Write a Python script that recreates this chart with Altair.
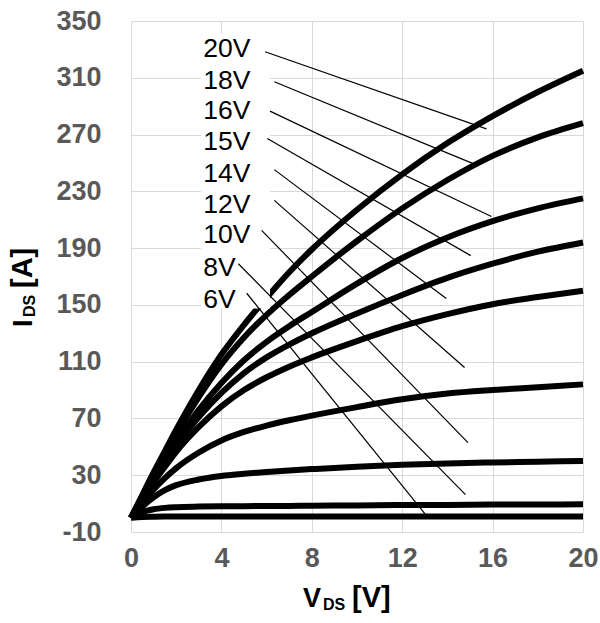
import altair as alt
import pandas as pd

# Drain-source voltage grid (V) shared by all output curves
VDS = [0, 0.5, 1, 1.5, 2, 3, 4, 5, 6, 7, 8, 10, 12, 14, 16, 18, 20]

# Drain current (A) for each gate voltage
ID_20V = [0, 16, 32, 47, 62, 90, 115, 136, 155, 173, 189, 217, 242, 264, 283, 300, 315]
ID_18V = [0, 15.5, 30.5, 45, 59, 85, 108, 127, 143, 157, 170, 195, 218, 238, 255, 268, 278]
ID_16V = [0, 14.5, 28, 41, 53.5, 76, 95, 111, 124, 135, 145, 165, 183, 197.5, 209, 218, 225]
ID_15V = [0, 14, 27, 39, 51, 71, 88, 102, 113, 122, 130, 144, 157, 169, 179, 187.5, 194]
ID_14V = [0, 13, 25, 36, 46.5, 64, 78.5, 90, 99, 106.5, 113, 124.5, 135, 143.5, 150.5, 155.5, 160]
ID_12V = [0, 10.5, 20, 28, 35, 46, 54.5, 60.5, 65, 68.7, 72, 78, 83.5, 87.5, 90, 92, 94]
ID_10V = [0, 8, 14.5, 19.5, 23, 27, 29.5, 31, 32.3, 33.4, 34.3, 36, 37.3, 38.3, 39, 39.5, 40]
ID_8V = [0, 4, 6, 7, 7.5, 7.9, 8.1, 8.2, 8.3, 8.4, 8.5, 8.7, 9, 9.1, 9.3, 9.4, 9.5]
ID_6V = [0, 0.6, 0.8, 0.9, 0.9, 1, 1, 1, 1, 1, 1, 1, 1, 1, 1, 1, 1]

# Gate-voltage labels with their leader lines (label row current, start and end points)
GATE_LABELS = ["20V", "18V", "16V", "15V", "14V", "12V", "10V", "8V", "6V"]
LABEL_ID = [330, 308, 286.5, 264.5, 242, 220.5, 199, 176, 153.5]
LEADER_V0 = [5.93, 6.34, 6.15, 6.03, 6.34, 6.34, 5.78, 4.75, 5.12]
LEADER_I0 = [328.3, 307.2, 286.5, 267.2, 245.3, 223.6, 202.5, 179, 158.2]
LEADER_V1 = [15.73, 15.22, 15.95, 15.03, 13.95, 14.76, 14.91, 14.8, 13.15]
LEADER_I1 = [274, 249, 212.3, 184.7, 154.5, 105.9, 53, 16.3, 0]

X_TICKS = [0, 4, 8, 12, 16, 20]
Y_TICKS = [-10, 30, 70, 110, 150, 190, 230, 270, 310, 350]

curve_series = [ID_20V, ID_18V, ID_16V, ID_15V, ID_14V, ID_12V, ID_10V, ID_8V, ID_6V]
curves = pd.DataFrame(
    [
        {"vgs": name, "vds": v, "ids": i}
        for name, series in zip(GATE_LABELS, curve_series)
        for v, i in zip(VDS, series)
    ]
)
labels = pd.DataFrame(
    {
        "vgs": GATE_LABELS,
        "label_i": LABEL_ID,
        "v0": LEADER_V0,
        "i0": LEADER_I0,
        "v1": LEADER_V1,
        "i1": LEADER_I1,
    }
)

FONT = "Liberation Sans"
TICK_GREY = "#595959"
GRID_GREY = "#d9d9d9"

x_scale = alt.Scale(domain=[0, 20], nice=False, zero=False)
y_scale = alt.Scale(domain=[-10, 350], nice=False, zero=False)

# Plain hyphen-minus in tick labels
plain_label = "'' + datum.value"

x_axis = alt.Axis(
    values=X_TICKS, title=None, grid=True, gridColor=GRID_GREY, gridWidth=1,
    domain=False, ticks=False, labelFont=FONT, labelFontSize=27,
    labelFontWeight="bold", labelColor=TICK_GREY, labelPadding=13,
    labelFlush=False, labelOverlap=False, labelExpr=plain_label,
)
y_axis = alt.Axis(
    values=Y_TICKS, title=None, grid=True, gridColor=GRID_GREY, gridWidth=1,
    domain=False, ticks=False, labelFont=FONT, labelFontSize=27,
    labelFontWeight="bold", labelColor=TICK_GREY, labelPadding=30,
    labelFlush=False, labelOverlap=False, labelExpr=plain_label,
)

lines = alt.Chart(curves).mark_line(
    color="black", strokeWidth=6, interpolate="monotone", strokeCap="butt"
).encode(
    x=alt.X("vds:Q", scale=x_scale, axis=x_axis),
    y=alt.Y("ids:Q", scale=y_scale, axis=y_axis),
    detail="vgs:N",
)

# White backing panel behind the gate-voltage labels
panel = alt.Chart(pd.DataFrame({"k": [0]})).mark_rect(color="white").encode(
    x=alt.datum(3.1), x2=alt.datum(6.15), y=alt.datum(147.5), y2=alt.datum(341)
)

leaders = alt.Chart(labels).mark_rule(color="black", strokeWidth=1.2).encode(
    x="v0:Q", y="i0:Q", x2="v1:Q", y2="i1:Q"
)

label_text = alt.Chart(labels).mark_text(
    align="left", baseline="middle", font=FONT, fontSize=26.5, color="black"
).encode(x=alt.datum(3.2), y="label_i:Q", text="vgs:N")


def title_piece(text, x, y, size, angle=0):
    return alt.Chart(pd.DataFrame({"t": [text]})).mark_text(
        align="left", baseline="alphabetic", font=FONT, fontSize=size,
        fontWeight="bold", color="black", angle=angle,
    ).encode(x=alt.value(x), y=alt.value(y), text="t:N")


# Axis titles with subscripts, positioned relative to the plot area
x_title = (
    title_piece("V", 172, 586, 27)
    + title_piece("DS", 192, 589, 16)
    + title_piece("[V]", 221, 586, 29)
)
y_title = (
    title_piece("I", -99, 306, 27, angle=270)
    + title_piece("DS", -96, 296, 16, angle=270)
    + title_piece("[A]", -99, 267, 29, angle=270)
)

chart = (
    alt.layer(lines, panel, leaders, label_text, x_title, y_title)
    .properties(
        width=452,
        height=511,
        autosize=alt.AutoSizeParams(type="none"),
        padding={"left": 131, "top": 21, "right": 17, "bottom": 91},
    )
    .configure_view(stroke="transparent")
)

chart.save("out.html", embed_options={"renderer": "svg", "actions": False})
